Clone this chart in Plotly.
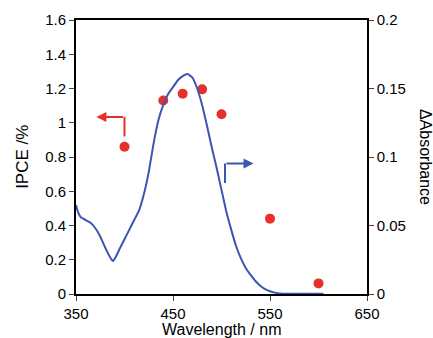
import plotly.graph_objects as go

# IPCE data (left axis)
ipce_wl = [400, 440, 460, 480, 500, 550, 600]
ipce_val = [0.86, 1.13, 1.17, 1.195, 1.05, 0.44, 0.062]

# Delta absorbance spectrum (right axis)
abs_wl = [350, 352, 355, 360, 365, 370, 375, 380, 385, 388, 391, 395, 400, 405, 410, 415,
          420, 425, 430, 435, 440, 445, 450, 455, 460, 465, 470, 475, 480, 485, 490, 495,
          500, 505, 510, 515, 520, 525, 530, 535, 540, 545, 550, 555, 560, 570, 580, 590, 605]
abs_val = [0.065, 0.060, 0.056, 0.054, 0.052, 0.048, 0.042, 0.034, 0.027, 0.024, 0.027,
           0.033, 0.040, 0.047, 0.054, 0.061, 0.073, 0.089, 0.110, 0.127, 0.138, 0.146,
           0.151, 0.156, 0.159, 0.1605, 0.158, 0.150, 0.138, 0.123, 0.107, 0.092, 0.076,
           0.060, 0.047, 0.035, 0.026, 0.019, 0.014, 0.0095, 0.006, 0.0035, 0.002, 0.001,
           0.0004, 0.0002, 0.0002, 0.0002, 0.0002]

x_ticks = [350, 450, 550, 650]
y1_ticks = [0, 0.2, 0.4, 0.6, 0.8, 1, 1.2, 1.4, 1.6]
y1_labels = ["0", "0.2", "0.4", "0.6", "0.8", "1", "1.2", "1.4", "1.6"]
y2_ticks = [0, 0.05, 0.1, 0.15, 0.2]
y2_labels = ["0", "0.05", "0.1", "0.15", "0.2"]

red = "#e8302a"
blue = "#3c55b2"
font = "Liberation Sans, Arial, sans-serif"

fig = go.Figure()
fig.add_trace(go.Scatter(x=abs_wl, y=abs_val, mode="lines", yaxis="y2",
                         line=dict(color=blue, width=2, shape="spline", smoothing=0.4),
                         showlegend=False))
fig.add_trace(go.Scatter(x=ipce_wl, y=ipce_val, mode="markers",
                         marker=dict(color=red, size=10), showlegend=False))

# Arrows
fig.add_shape(type="line", xref="x", yref="y", x0=400, x1=400, y0=0.92, y1=1.034,
              line=dict(color=red, width=2))
fig.add_annotation(x=371, y=1.034, ax=400, ay=1.034, xref="x", yref="y", axref="x", ayref="y",
                   text="", showarrow=True, arrowhead=2, arrowsize=1, arrowwidth=2,
                   arrowcolor=red)
fig.add_shape(type="line", xref="x", yref="y2", x0=503.6, x1=503.6, y0=0.081, y1=0.0953,
              line=dict(color=blue, width=2))
fig.add_annotation(x=533, y=0.0953, ax=503.6, ay=0.0953, xref="x", yref="y2", axref="x",
                   ayref="y2", text="", showarrow=True, arrowhead=2, arrowsize=1,
                   arrowwidth=2, arrowcolor=blue)

# Axis titles
fig.add_annotation(x=0.5, y=-0.128, xref="paper", yref="paper", text="Wavelength / nm",
                   xanchor="center", yanchor="middle", showarrow=False,
                   font=dict(family=font, size=16, color="black"))
fig.add_annotation(x=-0.186, y=0.5, xref="paper", yref="paper", text="IPCE /%",
                   xanchor="center", yanchor="middle", textangle=-90, showarrow=False,
                   font=dict(family=font, size=17, color="black"))
fig.add_annotation(x=1.203, y=0.5, xref="paper", yref="paper", text="ΔAbsorbance",
                   xanchor="center", yanchor="middle", textangle=90, showarrow=False,
                   font=dict(family=font, size=16, color="black"))

fig.update_layout(
    width=433, height=338,
    margin=dict(l=76, r=66, t=20, b=44),
    paper_bgcolor="white", plot_bgcolor="white",
    font=dict(family=font, size=15, color="black"),
    xaxis=dict(range=[350, 650], tickvals=x_ticks, ticks="outside", ticklen=5,
               showline=True, linecolor="black", linewidth=1.5, mirror=True,
               showgrid=False, zeroline=False, automargin=False),
    yaxis=dict(range=[0, 1.6], tickvals=y1_ticks, ticktext=y1_labels, ticks="outside",
               ticklen=5, showline=True, linecolor="black", linewidth=2,
               showgrid=False, zeroline=False, automargin=False),
    yaxis2=dict(range=[0, 0.2], tickvals=y2_ticks, ticktext=y2_labels, ticks="outside",
                ticklen=5, showline=True, linecolor="black", linewidth=1.5, automargin=False,
                overlaying="y", side="right", showgrid=False, zeroline=False),
)

fig.write_html("out.html", config={"displayModeBar": False},
               post_script="document.body.style.margin='0';document.body.style.overflow='hidden';")
